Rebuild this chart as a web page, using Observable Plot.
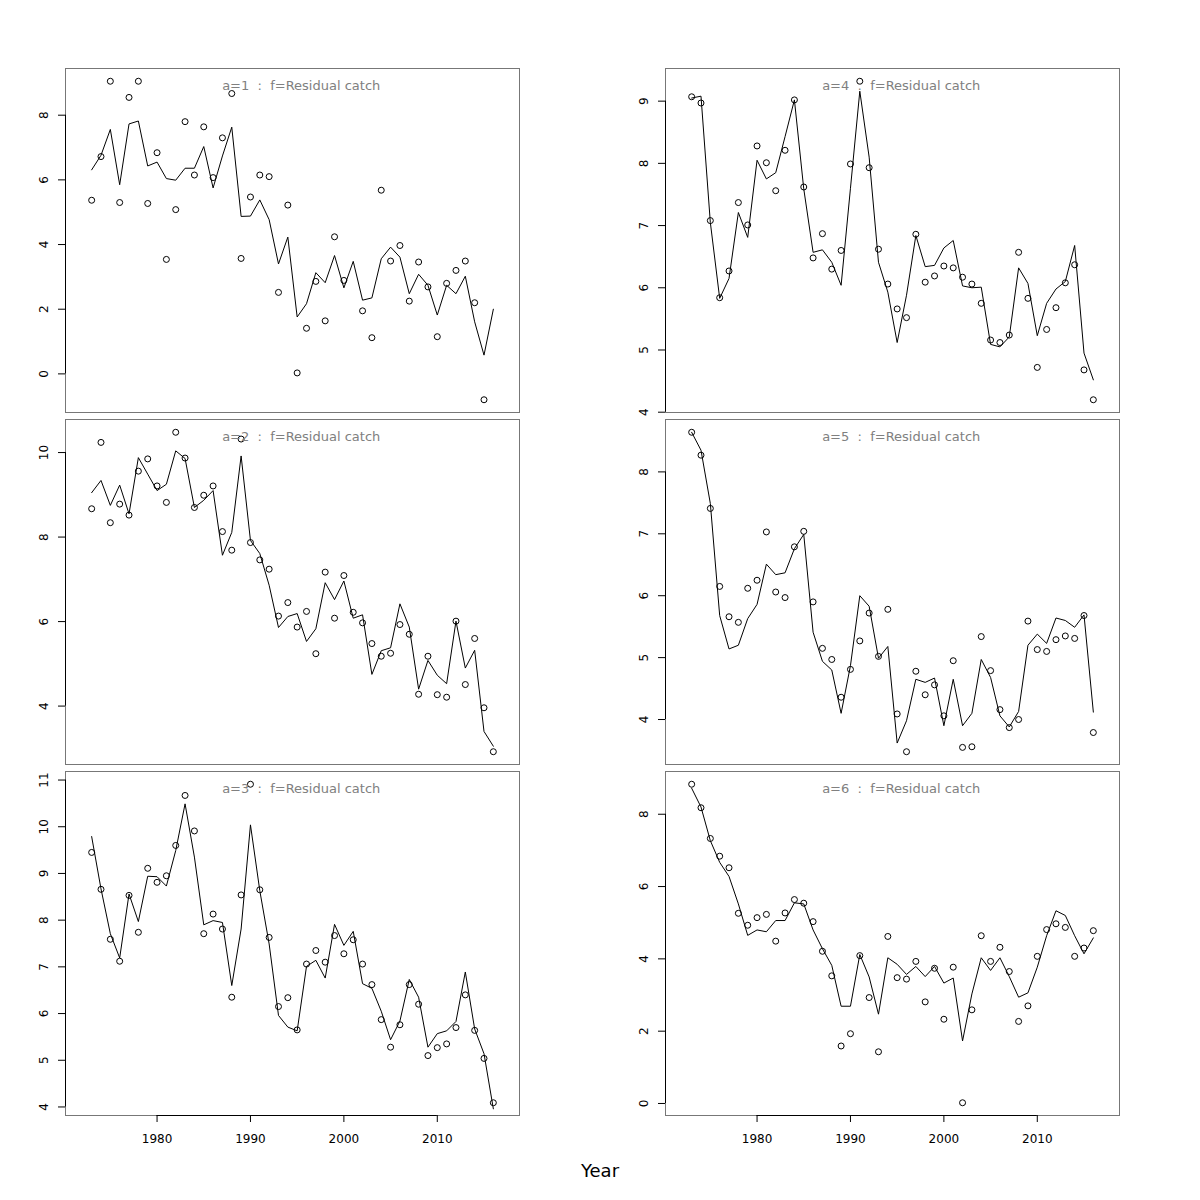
<!DOCTYPE html>
<html><head><meta charset="utf-8">
<script src="https://cdn.jsdelivr.net/npm/d3@7"></script>
<script src="https://cdn.jsdelivr.net/npm/@observablehq/plot@0.6"></script>
<style>
body{margin:0;background:#fff}
#c{position:relative;width:1200px;height:1200px;font-family:"DejaVu Sans",sans-serif;background:#fff}
#c svg{position:absolute}
#xlab{position:absolute;left:0;width:1200px;top:1160px;text-align:center;font-size:18px;line-height:22px;color:#000}
</style>
</head><body><div id="c"></div>
<script>
const years = [1973,1974,1975,1976,1977,1978,1979,1980,1981,1982,1983,1984,1985,1986,1987,1988,1989,1990,1991,1992,1993,1994,1995,1996,1997,1998,1999,2000,2001,2002,2003,2004,2005,2006,2007,2008,2009,2010,2011,2012,2013,2014,2015,2016];

const obs1 = [5.37,6.72,9.05,5.30,8.55,9.05,5.27,6.84,3.54,5.08,7.80,6.15,7.64,6.07,7.30,8.67,3.57,5.47,6.15,6.10,2.52,5.22,0.03,1.41,2.86,1.64,4.24,2.89,null,1.95,1.12,5.68,3.49,3.97,2.25,3.46,2.69,1.15,2.80,3.20,3.49,2.20,-0.80,null];
const fit1 = [6.31,6.76,7.56,5.85,7.73,7.82,6.43,6.55,6.04,5.99,6.36,6.36,7.03,5.75,6.74,7.63,4.87,4.88,5.38,4.77,3.40,4.23,1.76,2.17,3.13,2.82,3.66,2.66,3.48,2.28,2.35,3.56,3.92,3.61,2.48,3.08,2.74,1.82,2.74,2.48,3.02,1.61,0.58,2.00];

const obs2 = [8.67,10.24,8.34,8.78,8.52,9.56,9.85,9.21,8.82,10.48,9.87,8.70,8.99,9.21,8.13,7.69,10.32,7.87,7.46,7.24,6.13,6.45,5.87,6.24,5.24,7.17,6.08,7.09,6.22,5.97,5.48,5.18,5.25,5.93,5.70,4.28,5.18,4.27,4.21,6.01,4.51,5.60,3.96,2.92];
const fit2 = [9.05,9.34,8.75,9.23,8.55,9.88,9.49,9.10,9.25,10.04,9.86,8.70,8.87,9.10,7.57,8.11,9.92,7.92,7.61,6.86,5.86,6.12,6.19,5.53,5.83,6.92,6.52,6.96,6.08,6.16,4.75,5.31,5.38,6.42,5.87,4.40,5.08,4.73,4.53,6.01,4.90,5.32,3.40,3.05];

const obs3 = [9.45,8.66,7.59,7.12,8.53,7.74,9.11,8.81,8.95,9.60,10.67,9.91,7.71,8.13,7.81,6.35,8.54,10.91,8.65,7.63,6.15,6.34,5.65,7.06,7.35,7.10,7.67,7.28,7.58,7.06,6.62,5.87,5.28,5.76,6.62,6.20,5.10,5.27,5.35,5.70,6.40,5.64,5.04,4.09];
const fit3 = [9.79,8.67,7.71,7.19,8.56,7.97,8.94,8.93,8.73,9.49,10.49,9.35,7.90,7.99,7.95,6.60,7.81,10.04,8.63,7.49,5.96,5.71,5.63,7.01,7.14,6.76,7.91,7.46,7.76,6.64,6.54,6.05,5.44,5.84,6.73,6.35,5.28,5.57,5.63,5.83,6.89,5.67,5.14,3.96];

const obs4 = [9.07,8.97,7.08,5.84,6.27,7.37,7.01,8.28,8.01,7.56,8.21,9.02,7.62,6.48,6.87,6.30,6.60,7.99,9.32,7.93,6.62,6.06,5.66,5.52,6.86,6.09,6.19,6.35,6.32,6.17,6.06,5.75,5.16,5.12,5.24,6.57,5.83,4.72,5.33,5.68,6.08,6.37,4.68,4.20];
const fit4 = [9.05,9.08,7.05,5.83,6.15,7.21,6.81,8.05,7.75,7.85,8.43,9.02,7.59,6.57,6.61,6.41,6.04,7.60,9.16,8.10,6.41,5.93,5.12,5.88,6.84,6.34,6.36,6.64,6.76,6.03,6.00,6.01,5.09,5.05,5.21,6.32,6.07,5.23,5.75,5.98,6.10,6.68,4.95,4.52];

const obs5 = [8.64,8.27,7.41,6.15,5.66,5.57,6.12,6.25,7.03,6.06,5.97,6.79,7.04,5.90,5.15,4.97,4.36,4.81,5.27,5.72,5.02,5.78,4.09,3.48,4.78,4.40,4.56,4.06,4.95,3.55,3.56,5.34,4.79,4.16,3.87,4.00,5.59,5.13,5.10,5.29,5.35,5.31,5.68,3.79];
const fit5 = [8.64,8.35,7.49,5.68,5.14,5.20,5.63,5.86,6.51,6.34,6.37,6.76,6.99,5.41,4.94,4.80,4.10,4.87,6.00,5.83,4.99,5.18,3.62,3.98,4.65,4.60,4.67,3.90,4.65,3.90,4.10,4.97,4.68,4.06,3.88,4.13,5.20,5.38,5.23,5.64,5.60,5.49,5.69,4.12];

const obs6 = [8.83,8.18,7.33,6.84,6.52,5.26,4.93,5.14,5.23,4.49,5.27,5.64,5.54,5.03,4.21,3.53,1.59,1.93,4.09,2.93,1.43,4.62,3.48,3.44,3.93,2.81,3.74,2.33,3.77,0.02,2.59,4.64,3.93,4.32,3.65,2.27,2.70,4.07,4.81,4.97,4.87,4.07,4.30,4.78];
const fit6 = [8.72,8.20,7.27,6.67,6.28,5.52,4.65,4.80,4.75,5.06,5.06,5.55,5.52,4.80,4.28,3.82,2.69,2.69,4.12,3.50,2.47,4.03,3.85,3.57,3.79,3.51,3.79,3.33,3.47,1.73,3.03,4.03,3.68,4.03,3.51,2.94,3.06,3.77,4.64,5.33,5.20,4.64,4.14,4.58];

const ticks1 = [0,2,4,6,8];
const ticks2 = [4,6,8,10];
const ticks3 = [4,5,6,7,8,9,10,11];
const ticks4 = [4,5,6,7,8,9];
const ticks5 = [4,5,6,7,8];
const ticks6 = [0,2,4,6,8];
const xTicks = [1980,1990,2000,2010];
const titles = ["a=1\u00a0 :\u00a0 f=Residual catch","a=2\u00a0 :\u00a0 f=Residual catch","a=3\u00a0 :\u00a0 f=Residual catch","a=4\u00a0 :\u00a0 f=Residual catch","a=5\u00a0 :\u00a0 f=Residual catch","a=6\u00a0 :\u00a0 f=Residual catch"];
const xLabel = "Year";

const xDomain = [1970.2, 2018.8];
const panels = [
  {title:titles[0], obs:obs1, fit:fit1, ticks:ticks1, col:0, row:0},
  {title:titles[1], obs:obs2, fit:fit2, ticks:ticks2, col:0, row:1},
  {title:titles[2], obs:obs3, fit:fit3, ticks:ticks3, col:0, row:2},
  {title:titles[3], obs:obs4, fit:fit4, ticks:ticks4, col:1, row:0},
  {title:titles[4], obs:obs5, fit:fit5, ticks:ticks5, col:1, row:1},
  {title:titles[5], obs:obs6, fit:fit6, ticks:ticks6, col:1, row:2}
];
const rows = [
  {top:0, h:415, mt:68, mb:3},
  {top:415, h:352, mt:4, mb:3},
  {top:767, h:433, mt:4, mb:85}
];

const container = document.getElementById("c");
for (const p of panels) {
  const r = rows[p.row];
  const data = years.map((y, i) => ({year: y, obs: p.obs[i], fit: p.fit[i]}));
  const pts = data.filter(d => d.obs != null);
  const [lo, hi] = d3.extent(pts, d => d.obs);
  const pad = (hi - lo) * 0.04;
  const yDomain = [lo - pad, hi + pad];
  const bottom = p.row === 2;
  const marks = [
    Plot.frame({stroke: "#777"}),
    Plot.ruleX([xDomain[0]], {y1: p.ticks[0], y2: p.ticks[p.ticks.length - 1], stroke: "black"}),
    Plot.axisY({ticks: p.ticks, tickSize: 7, tickPadding: 11, tickRotate: -90, tickFormat: d => String(d), fontSize: 12, label: null}),
    Plot.line(data, {x: "year", y: "fit", stroke: "black", strokeWidth: 1}),
    Plot.dot(pts, {x: "year", y: "obs", r: 3, stroke: "black", strokeWidth: 1, fill: "none"}),
    Plot.text([p.title], {frameAnchor: "top", text: d => d, dx: 8.7, dy: 12, lineAnchor: "top", fill: "#808080", fontSize: 13})
  ];
  if (bottom) {
    marks.push(Plot.axisX({ticks: xTicks, tickSize: 7, tickPadding: 12, tickFormat: d => String(d), fontSize: 12, label: null}));
    marks.push(Plot.ruleY([yDomain[0]], {x1: xTicks[0], x2: xTicks[xTicks.length - 1], stroke: "black"}));
  }
  const svg = Plot.plot({
    width: 600, height: r.h,
    marginTop: r.mt, marginBottom: r.mb, marginLeft: 65, marginRight: 81,
    style: {fontFamily: "DejaVu Sans, sans-serif", fontSize: "12px", background: "transparent", color: "black", overflow: "visible"},
    x: bottom ? {domain: xDomain, label: null} : {domain: xDomain, axis: null},
    y: {domain: yDomain, label: null},
    marks
  });
  svg.style.left = (p.col * 600) + "px";
  svg.style.top = r.top + "px";
  container.appendChild(svg);
}
const xl = document.createElement("div");
xl.id = "xlab";
xl.textContent = xLabel;
container.appendChild(xl);
</script>
</body></html>
